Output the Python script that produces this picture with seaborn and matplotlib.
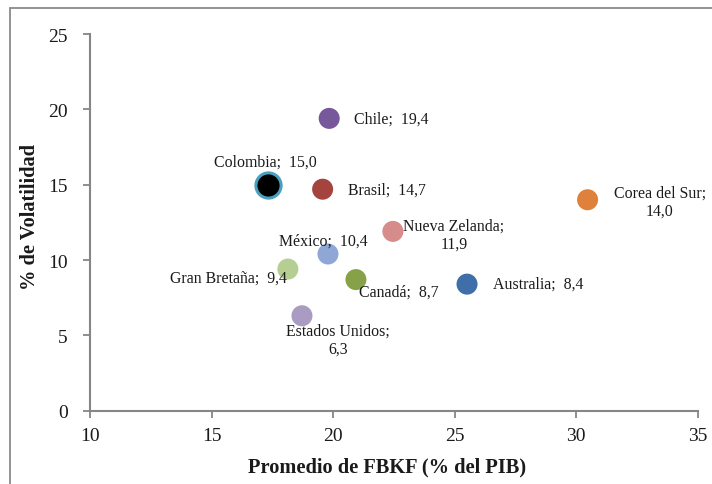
import matplotlib
matplotlib.use("Agg")
import matplotlib.pyplot as plt
from matplotlib.patches import Rectangle
import seaborn as sns
import pandas as pd

# Gross fixed capital formation (% of GDP) vs. volatility, by country
paises = ["Chile", "Colombia", "Brasil", "Corea del Sur", "Nueva Zelanda",
          "México", "Gran Bretaña", "Canadá", "Australia", "Estados Unidos"]
fbkf = [19.84, 17.33, 19.57, 30.47, 22.46, 19.79, 18.14, 20.94, 25.51, 18.72]
volatilidad = [19.4, 15.0, 14.7, 14.0, 11.9, 10.4, 9.4, 8.7, 8.4, 6.3]
colores = ["#77589a", "#000000", "#a5433f", "#de813a", "#d58c8a",
           "#8ea7d5", "#b5cf93", "#86a148", "#3f6ea9", "#a99bc2"]
etiquetas = ["Chile;  19,4", "Colombia;  15,0", "Brasil;  14,7",
             "Corea del Sur;\n14,0", "Nueva Zelanda;\n11,9", "México;  10,4",
             "Gran Bretaña;  9,4", "Canadá;  8,7", "Australia;  8,4",
             "Estados Unidos;\n6,3"]

# label placement: (dx, dy) in pixels, horizontal alignment
posiciones = [(25, 0, "left"), (-3, 23, "center"), (25, 0, "left"),
              (72, -2, "center"), (61, -3, "center"), (-5, 13, "center"),
              (-1, -9, "right"), (3, -12, "left"), (26, 0, "left"),
              (36, -24, "center")]

df = pd.DataFrame({"pais": paises, "fbkf": fbkf, "vol": volatilidad})

sns.set_style("white")
plt.rcParams["font.family"] = ["Liberation Serif", "DejaVu Serif"]

fig = plt.figure(figsize=(7.12, 4.85), dpi=100)
ax = fig.add_axes([90 / 712, 1 - 411.7 / 485, (697.7 - 90) / 712, (411.7 - 35) / 485])

# chart-area border
fig.patches.append(Rectangle((10 / 712, -0.1), 1.2, 1 - 9 / 485 + 0.1,
                             transform=fig.transFigure, fill=False,
                             edgecolor="#8a8a8a", linewidth=1.3, zorder=0))

palette = dict(zip(paises, colores))
otros = df[df.pais != "Colombia"]
sns.scatterplot(data=otros, x="fbkf", y="vol", hue="pais", palette=palette,
                s=229, linewidth=0, legend=False, ax=ax, zorder=3)
sns.scatterplot(data=df[df.pais == "Colombia"], x="fbkf", y="vol", hue="pais",
                palette=palette, s=330, edgecolor="#4aa0c0", linewidth=2.2,
                legend=False, ax=ax, zorder=3)

for x, y, txt, (dx, dy, ha) in zip(fbkf, volatilidad, etiquetas, posiciones):
    ax.annotate(txt, (x, y), xytext=(dx, dy), textcoords="offset pixels",
                ha=ha, va="center", multialignment="center",
                fontsize=11.4, color="#1a1a1a", zorder=4)

ax.set_xlim(10, 35)
ax.set_ylim(0, 25)
ax.set_xticks([10, 15, 20, 25, 30, 35])
ax.set_yticks([0, 5, 10, 15, 20, 25])
ax.tick_params(axis="both", direction="out", length=5, width=1.3,
               color="#868686", labelsize=14, labelcolor="#1a1a1a",
               bottom=True, left=True)
ax.tick_params(axis="y", pad=11)
ax.tick_params(axis="x", pad=7)
for side in ["top", "right"]:
    ax.spines[side].set_visible(False)
for side in ["left", "bottom"]:
    ax.spines[side].set_color("#868686")
    ax.spines[side].set_linewidth(1.5)

ax.set_xlabel("Promedio de FBKF (% del PIB)", fontsize=14.7, fontweight="bold",
              color="#1a1a1a", va="center")
ax.set_ylabel("% de Volatilidad", fontsize=14.7, fontweight="bold",
              color="#1a1a1a", va="center")
ax.xaxis.set_label_coords(0.4896, -0.147)
ax.yaxis.set_label_coords(-0.0987, 0.517)

fig.savefig("out.png", dpi=100, facecolor="white")
